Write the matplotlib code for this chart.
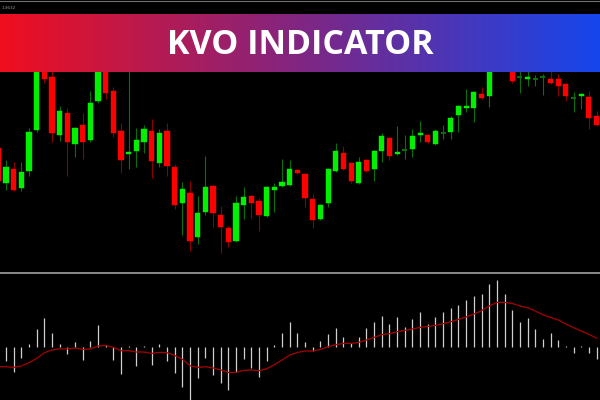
import numpy as np
import matplotlib
matplotlib.use("Agg")
import matplotlib.pyplot as plt
from matplotlib.patches import Rectangle
from matplotlib.lines import Line2D

# candle data (price units)
opens = [152, 117, 131, 112, 129, 170, 234, 223, 165, 187, 156, 175, 160, 199, 234, 209,
         169, 146, 149, 158, 169, 137, 169, 133, 97, 107, 63, 88, 114, 85, 72, 59, 95, 104,
         99, 84, 110, 114, 115, 130, 126, 101, 81, 97, 129, 147, 137, 117, 140, 131, 149,
         162, 146, 150, 151, 165, 165, 156, 167, 168, 185, 192, 192, 206, 204, 232, 242,
         234, 223, 221, 221, 223, 221, 221, 216, 202, 204, 203, 184]
highs = [154, 140, 138, 138, 172, 245, 240, 230, 194, 192, 173, 187, 209, 242, 240, 213,
         177, 232, 172, 175, 181, 171, 177, 136, 118, 119, 104, 144, 115, 94, 74, 104, 113,
         105, 102, 114, 117, 141, 140, 131, 127, 106, 96, 132, 157, 154, 138, 143, 141, 150,
         167, 163, 174, 165, 171, 179, 166, 171, 175, 184, 195, 211, 209, 213, 236, 246, 248,
         240, 232, 230, 225, 226, 229, 226, 217, 208, 207, 209, 189]
lows = [117, 110, 109, 109, 124, 168, 217, 158, 159, 124, 143, 141, 158, 197, 201, 163,
        127, 131, 133, 147, 122, 133, 124, 91, 65, 49, 56, 85, 73, 47, 53, 58, 81, 82, 69,
        83, 88, 113, 114, 126, 93, 72, 80, 93, 128, 130, 117, 116, 128, 119, 138, 140, 145,
        141, 143, 158, 157, 155, 161, 161, 168, 188, 178, 201, 193, 230, 232, 217, 207, 214,
        214, 205, 216, 204, 199, 188, 191, 171, 174]
closes = [119, 133, 110, 128, 168, 240, 221, 167, 189, 158, 172, 158, 197, 238, 207, 167,
          140, 148, 160, 171, 139, 167, 134, 95, 111, 59, 87, 113, 87, 73, 58, 97, 103, 97,
          85, 113, 113, 118, 131, 127, 102, 80, 95, 131, 149, 131, 119, 138, 129, 149, 164,
          144, 148, 150, 164, 167, 158, 169, 167, 182, 194, 194, 208, 202, 232, 242, 236, 219,
          223, 223, 221, 223, 217, 214, 204, 202, 206, 182, 175]

# KVO histogram and signal line
kvo = [-12, -14, -25, -11, 2.3, 17.7, 29, 13.7, 3, -7.7, 4.7, -13.3, 5.7, 21.7, 1.7, -13.3,
       -27.7, 0.7, -19.3, 1, -18.7, 2.7, -14, -26.7, -40.7, -56, -31.7, -11.7, -28, -36,
       -43.3, -25, -12.7, -21, -30.7, -14.3, 1.3, 13.7, 24.7, 13.7, 4.3, -4, 5.7, 12.7, 19,
       9.7, 3.3, 9.7, 18.7, 24.7, 30.7, 22.7, 30, 19.3, 27.3, 34.7, 22.7, 30, 34.7, 38.7, 42,
       46.7, 50.3, 53, 62.7, 66.7, 52.7, 36.7, 24.7, 28.3, 17.3, 8, 13.7, 6.7, 0.7, -6.7, 0.3,
       -6.7, -12.3]
signal = [-20, -20, -20.7, -19.3, -16, -11.7, -6, -3.3, -2, -2.3, -1.3, -2.7, -2.3, 0.7, 1.3,
          -0.7, -4, -4, -5.3, -5.3, -6.7, -5.7, -6, -8.7, -12.7, -19, -20.7, -20, -21.3, -23.3,
          -25.7, -25.7, -23.7, -23.3, -24, -22, -18, -13.3, -8.3, -5.7, -4.3, -4.3, -2.7, 0, 2,
          3.3, 3.3, 4.3, 6.7, 9.3, 12, 13, 15, 16.3, 17.7, 19.3, 20.3, 21.3, 23, 25, 27.3, 29.7,
          32.7, 36, 40.7, 44.3, 44.3, 43.3, 40.7, 39, 35.7, 32, 29.3, 26.7, 22.7, 19, 15.7,
          12.3, 8.7]

title = "KVO INDICATOR"

fig = plt.figure(figsize=(6, 4), dpi=100, facecolor="black")

# ---- price pane ----
ax1 = fig.add_axes([0, 128 / 400, 1, 272 / 400], facecolor="black")
ax1.set_xlim(0.22, 78.45)
ax1.set_ylim(28, 300)
ax1.axis("off")

w = 0.68
for i in range(len(opens)):
    o, h, l, c = opens[i], highs[i], lows[i], closes[i]
    bull = c >= o
    wick = "#0a6e0a" if bull else "#8a0000"
    body = "#00f000" if bull else "#ff0000"
    ax1.vlines(i, l, h, color=wick, linewidth=0.8, zorder=1)
    if c == o:
        ax1.hlines(o, i - w / 2, i + w / 2, color=wick, linewidth=1.4, zorder=2)
    else:
        ax1.add_patch(Rectangle((i - w / 2, min(o, c)), w, abs(c - o),
                                facecolor=body, edgecolor=body, linewidth=0.3, zorder=2))

# ---- KVO pane ----
ax2 = fig.add_axes([0, 0, 1, 125 / 400], facecolor="black")
ax2.set_xlim(0.22, 78.45)
ax2.set_ylim(-53.3, 71.7)
ax2.axis("off")
x = np.arange(len(kvo))
ax2.vlines(x, 0, kvo, color="#cfcfcf", linewidth=0.9)
ax2.plot(x, signal, color="#a80000", linewidth=0.9)

# separator and top border
fig.add_artist(Line2D([0, 1], [127 / 400, 127 / 400], color="#8a8a8a", linewidth=1.4))
fig.add_artist(Line2D([0, 1], [399.5 / 400, 399.5 / 400], color="#707070", linewidth=0.8))
fig.text(0.002, 0.985, "1.3632", color="#9a9a9a", fontsize=3, va="top", ha="left")

# ---- banner ----
axb = fig.add_axes([0, 328 / 400, 1, 58 / 400])
stops = np.array([[240, 14, 30], [128, 38, 130], [22, 70, 236]]) / 255
t = np.linspace(0, 1, 600)
grad = np.stack([np.interp(t, [0, 0.5, 1], stops[:, k]) for k in range(3)], axis=1)
axb.imshow(grad[np.newaxis, :, :], aspect="auto", extent=[0, 1, 0, 1])
axb.set_xlim(0, 1)
axb.set_ylim(0, 1)
axb.axis("off")
axb.text(0.5, 0.47, title, color="white", fontsize=24.5, fontweight="bold",
         family="Open Sans", ha="center", va="center")

fig.savefig("out.png", dpi=100, facecolor="black")
